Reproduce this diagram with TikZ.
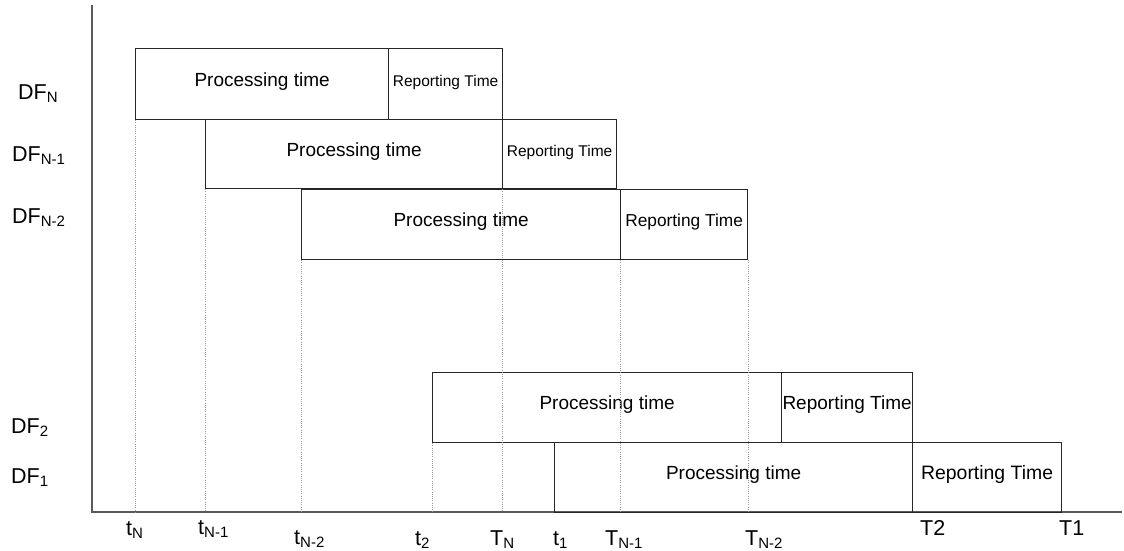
\documentclass[tikz,border=0pt]{standalone}
\usepackage{fontspec}
\setmainfont{Liberation Sans}
% lowered, smaller index as used in DF_N, t_N, T_N
\newcommand\lowidx[1]{\raisebox{-3pt}{\fontsize{15}{15}\selectfont #1}}
\begin{document}
\begin{tikzpicture}[x=1pt,y=-1pt,
  bar/.style={draw=black!85, line width=1.2pt, inner sep=0pt, anchor=north west,
              text height=10pt, text depth=6pt},
  axisline/.style={draw=black!65, line width=1.4pt},
  guide/.style={draw=black!40, line width=0.9pt, dash pattern=on 1pt off 1.2pt},
  rowlabel/.style={anchor=base west, inner sep=0pt, font=\fontsize{21.5}{25}\selectfont},
  ticklabel/.style={anchor=base west, inner sep=0pt, font=\fontsize{21.5}{25}\selectfont},
  ptime/.style={font=\fontsize{19}{22}\selectfont}]
\useasboundingbox (0,0) rectangle (1124,550);

% axes
\coordinate (ytop) at (92,5);
\coordinate (origin) at (92,512);
\coordinate (xend) at (1122,512);
\draw[axisline] (ytop) -- (origin) -- (xend);

% processing / reporting bars
\node[bar, ptime, minimum width=253pt, minimum height=71pt] (pN) at (135,48) {Processing time};
\node[bar, font=\fontsize{15.5}{18}\selectfont, minimum width=114pt, minimum height=71pt] (rN) at (388,48) {Reporting Time};

\node[bar, ptime, minimum width=297pt, minimum height=69pt] (pN1) at (205,119) {Processing time};
\node[bar, font=\fontsize{15.5}{18}\selectfont, minimum width=114pt, minimum height=69pt] (rN1) at (502,119) {Reporting Time};

\node[bar, ptime, minimum width=319pt, minimum height=70pt] (pN2) at (301,189) {Processing time};
\node[bar, font=\fontsize{17.3}{20}\selectfont, minimum width=127pt, minimum height=70pt] (rN2) at (620,189) {Reporting Time};

\node[bar, ptime, minimum width=349pt, minimum height=70pt] (p2) at (432,372) {Processing time};
\node[bar, font=\fontsize{19}{22}\selectfont, minimum width=131pt, minimum height=70pt] (r2) at (781,372) {Reporting Time};

\node[bar, ptime, minimum width=358pt, minimum height=70pt] (p1) at (554,442) {Processing time};
\node[bar, font=\fontsize{19.4}{22}\selectfont, minimum width=149pt, minimum height=70pt] (r1) at (912,442) {Reporting Time};

% dotted guides down to the time axis
\draw[guide] (pN.south west) -- (pN.south west |- origin);
\draw[guide] (pN1.south west) -- (pN1.south west |- origin);
\draw[guide] (pN2.south west) -- (pN2.south west |- origin);
\draw[guide] (p2.south west) -- (p2.south west |- origin);
\draw[guide] (rN1.south west) -- (rN1.south west |- origin);
\draw[guide] (rN2.south west) -- (rN2.south west |- origin);
\draw[guide] (rN2.south east) -- (rN2.south east |- origin);

% row labels
\node[rowlabel] (lN)  at (18,99)  {DF\lowidx{N}};
\node[rowlabel] (lN1) at (12,161) {DF\lowidx{N-1}};
\node[rowlabel] (lN2) at (12,223) {DF\lowidx{N-2}};
\node[rowlabel] (l2)  at (11,433) {DF\lowidx{2}};
\node[rowlabel] (l1)  at (11,483) {DF\lowidx{1}};

% time marks
\node[ticklabel] (ttN)  at (126,535) {t\lowidx{N}};
\node[ticklabel] (ttN1) at (198,534) {t\lowidx{N-1}};
\node[ticklabel] (ttN2) at (294,544) {t\lowidx{N-2}};
\node[ticklabel] (tt2)  at (415,545) {t\lowidx{2}};
\node[ticklabel] (TTN)  at (490,545) {T\lowidx{N}};
\node[ticklabel] (tt1)  at (553,545) {t\lowidx{1}};
\node[ticklabel] (TTN1) at (605,545) {T\lowidx{N-1}};
\node[ticklabel] (TTN2) at (745,545) {T\lowidx{N-2}};
\node[ticklabel] (TT2)  at (920,535) {T2};
\node[ticklabel] (TT1)  at (1059,535) {T1};
\end{tikzpicture}
\end{document}
